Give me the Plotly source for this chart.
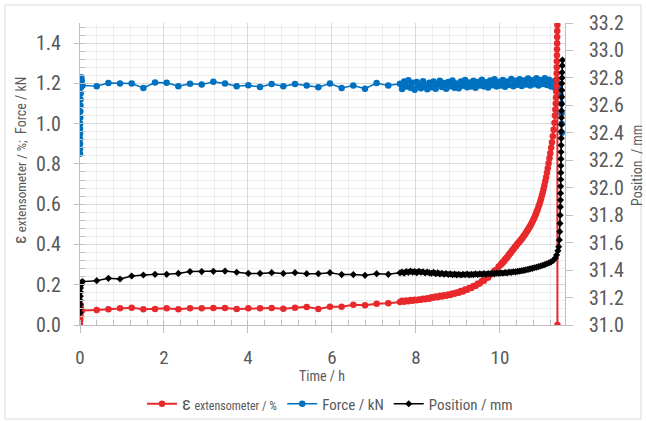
import plotly.graph_objects as go

# ---------------- data ----------------
# start-up cluster near t = 0
red_init_t = [0.0, 0.0, 0.0, 0.005, 0.005, 0.01, 0.01, 0.015, 0.02, 0.03, 0.05]
red_init_v = [0.0, 0.02, 0.04, 0.06, 0.03, 0.09, 0.05, 0.10, 0.08, 0.075, 0.072]

blue_init_t = [0.0, 0.0, 0.0, 0.0, 0.0, 0.0, 0.003, 0.005, 0.007, 0.01, 0.012, 0.015, 0.02, 0.025, 0.03, 0.04, 0.06]
blue_init_v = [0.85, 0.875, 0.90, 0.925, 0.95, 0.975, 1.00, 1.03, 1.06, 1.09, 1.12, 1.15, 1.18, 1.21, 1.23, 1.215, 1.19]

black_init_t = [0.0, 0.0, 0.0, 0.005, 0.005, 0.01, 0.01, 0.015, 0.02, 0.03, 0.06]
black_init_v = [31.09, 31.12, 31.15, 31.18, 31.21, 31.24, 31.27, 31.29, 31.30, 31.31, 31.316]

# sparse logging (every ~1000 s)
sparse_t = [0.398, 0.676, 0.953, 1.231, 1.509, 1.787, 2.064, 2.342, 2.620, 2.898,
            3.176, 3.453, 3.731, 4.009, 4.287, 4.564, 4.842, 5.120, 5.398, 5.676,
            5.953, 6.231, 6.509, 6.787, 7.064, 7.342]
red_sparse = [0.075, 0.078, 0.083, 0.086, 0.078, 0.080, 0.083, 0.078, 0.083, 0.083,
              0.085, 0.085, 0.080, 0.083, 0.083, 0.085, 0.081, 0.086, 0.090, 0.080,
              0.091, 0.091, 0.101, 0.098, 0.105, 0.108]
blue_sparse = [1.186, 1.202, 1.199, 1.199, 1.177, 1.204, 1.203, 1.186, 1.198, 1.194,
               1.208, 1.199, 1.186, 1.191, 1.182, 1.197, 1.186, 1.197, 1.189, 1.181,
               1.199, 1.177, 1.189, 1.174, 1.202, 1.189]
black_sparse = [31.323, 31.340, 31.335, 31.357, 31.364, 31.369, 31.369, 31.376, 31.389, 31.389,
                31.391, 31.393, 31.384, 31.376, 31.376, 31.381, 31.376, 31.381, 31.374, 31.374,
                31.381, 31.367, 31.367, 31.362, 31.374, 31.369]

# dense logging towards failure
dense_t = [7.62, 7.67, 7.72, 7.77, 7.82, 7.87, 7.92, 7.97, 8.02, 8.07,
           8.12, 8.17, 8.22, 8.27, 8.32, 8.37, 8.42, 8.47, 8.52, 8.57,
           8.62, 8.67, 8.72, 8.77, 8.82, 8.87, 8.92, 8.97, 9.02, 9.07,
           9.12, 9.17, 9.22, 9.27, 9.32, 9.37, 9.42, 9.47, 9.52, 9.57,
           9.62, 9.67, 9.72, 9.77, 9.82, 9.87, 9.92, 9.97, 10.02, 10.07,
           10.12, 10.17, 10.22, 10.27, 10.32, 10.37, 10.42, 10.47, 10.52, 10.57,
           10.62, 10.67, 10.72, 10.77, 10.82, 10.87, 10.92, 10.97, 11.02, 11.07,
           11.12, 11.17, 11.22, 11.27, 11.32]
blue_dense = [1.198, 1.172, 1.210, 1.184, 1.216, 1.178, 1.203, 1.169, 1.207, 1.188,
              1.176, 1.211, 1.186, 1.171, 1.203, 1.181, 1.210, 1.174, 1.196, 1.213,
              1.182, 1.202, 1.173, 1.207, 1.186, 1.215, 1.179, 1.200, 1.176, 1.209,
              1.188, 1.217, 1.181, 1.204, 1.184, 1.213, 1.178, 1.207, 1.189, 1.218,
              1.184, 1.206, 1.180, 1.214, 1.191, 1.220, 1.185, 1.208, 1.189, 1.217,
              1.183, 1.210, 1.192, 1.222, 1.186, 1.213, 1.193, 1.221, 1.187, 1.215,
              1.195, 1.224, 1.189, 1.216, 1.196, 1.226, 1.190, 1.217, 1.197, 1.225,
              1.192, 1.218, 1.184, 1.210, 1.176]
black_dense = [31.380, 31.386, 31.378, 31.390, 31.383, 31.392, 31.385, 31.389, 31.381, 31.391,
               31.384, 31.388, 31.379, 31.386, 31.380, 31.377, 31.383, 31.374, 31.380, 31.372,
               31.377, 31.370, 31.375, 31.368, 31.373, 31.366, 31.371, 31.365, 31.370, 31.364,
               31.369, 31.366, 31.371, 31.365, 31.369, 31.367, 31.372, 31.368, 31.373, 31.369,
               31.374, 31.370, 31.375, 31.372, 31.377, 31.373, 31.378, 31.375, 31.380, 31.377,
               31.382, 31.380, 31.385, 31.383, 31.388, 31.387, 31.391, 31.392, 31.396, 31.398,
               31.402, 31.405, 31.409, 31.412, 31.417, 31.421, 31.425, 31.430, 31.435, 31.440,
               31.446, 31.452, 31.460, 31.470, 31.488]

# strain is logged more densely where it rises fast
red_dense_t = [7.62, 7.67, 7.72, 7.77, 7.82, 7.87, 7.92, 7.97, 8.02, 8.07,
               8.12, 8.17, 8.22, 8.27, 8.32, 8.37, 8.42, 8.47, 8.52, 8.57,
               8.62, 8.67, 8.72, 8.77, 8.82, 8.87, 8.92, 8.97, 9.02, 9.07,
               9.12, 9.17, 9.22, 9.27, 9.32, 9.37, 9.42, 9.47, 9.52, 9.57,
               9.62, 9.67, 9.72, 9.77, 9.82, 9.87, 9.92, 9.97,
               10.02, 10.04, 10.06, 10.08, 10.10, 10.12, 10.14, 10.16, 10.18, 10.20,
               10.22, 10.24, 10.26, 10.28, 10.30, 10.32, 10.34, 10.36, 10.38, 10.40,
               10.42, 10.44, 10.46, 10.48, 10.50, 10.52, 10.54, 10.56, 10.58, 10.60,
               10.62, 10.64, 10.66, 10.68, 10.70, 10.72, 10.74, 10.76, 10.78, 10.80,
               10.82, 10.84, 10.86, 10.88, 10.90, 10.92, 10.94, 10.96, 10.98, 11.00,
               11.02, 11.04, 11.06, 11.08, 11.10, 11.12, 11.14, 11.16, 11.18, 11.20,
               11.22, 11.24, 11.26, 11.28, 11.30]
red_dense = [0.114, 0.120, 0.116, 0.122, 0.118, 0.124, 0.120, 0.126, 0.123, 0.127,
             0.125, 0.131, 0.128, 0.133, 0.131, 0.138, 0.135, 0.141, 0.138, 0.145,
             0.141, 0.148, 0.145, 0.152, 0.149, 0.157, 0.155, 0.162, 0.160, 0.169,
             0.167, 0.176, 0.175, 0.184, 0.184, 0.194, 0.194, 0.205, 0.206, 0.218,
             0.220, 0.233, 0.236, 0.250, 0.254, 0.269, 0.274, 0.290,
             0.299, 0.306, 0.308, 0.316, 0.317, 0.325, 0.328, 0.335, 0.337, 0.345,
             0.349, 0.356, 0.359, 0.367, 0.370, 0.378, 0.381, 0.389, 0.391, 0.399,
             0.403, 0.409, 0.412, 0.419, 0.422, 0.429, 0.433, 0.441, 0.445, 0.452,
             0.458, 0.465, 0.470, 0.478, 0.484, 0.492, 0.499, 0.508, 0.515, 0.525,
             0.533, 0.544, 0.553, 0.565, 0.575, 0.588, 0.600, 0.614, 0.627, 0.643,
             0.658, 0.676, 0.694, 0.714, 0.734, 0.756, 0.779, 0.803, 0.828, 0.853,
             0.880, 0.908, 0.938, 0.970, 1.005]

# failure
red_tail_t = [11.31, 11.32, 11.33, 11.335, 11.34, 11.345, 11.35, 11.352, 11.354, 11.356,
              11.358, 11.36, 11.362, 11.364, 11.366, 11.368, 11.37]
red_tail_v = [1.04, 1.07, 1.10, 1.13, 1.16, 1.19, 1.22, 1.25, 1.28, 1.31,
              1.34, 1.37, 1.40, 1.43, 1.46, 1.49, 0.0]
blue_tail_t = [11.34, 11.37, 11.40, 11.43, 11.45, 11.46, 11.465, 11.47, 11.475]
blue_tail_v = [1.20, 1.19, 1.20, 1.17, 1.14, 1.10, 1.05, 1.00, 0.955]
black_tail_t = [11.35, 11.38, 11.40, 11.415, 11.425, 11.43, 11.435, 11.44, 11.442, 11.444,
                11.446, 11.448, 11.45, 11.452, 11.454, 11.456, 11.458, 11.46, 11.462, 11.464,
                11.466, 11.468, 11.47, 11.472, 11.474, 11.476, 11.478, 11.48, 11.485, 11.49]
black_tail_v = [31.51, 31.54, 31.57, 31.62, 31.68, 31.74, 31.80, 31.86, 31.91, 31.96,
                32.01, 32.06, 32.11, 32.16, 32.21, 32.26, 32.31, 32.36, 32.41, 32.46,
                32.51, 32.56, 32.61, 32.66, 32.71, 32.76, 32.80, 32.84, 32.89, 32.93]

for a, b in [(red_init_t, red_init_v), (blue_init_t, blue_init_v), (black_init_t, black_init_v),
             (sparse_t, red_sparse), (sparse_t, blue_sparse), (sparse_t, black_sparse),
             (red_dense_t, red_dense), (dense_t, blue_dense), (dense_t, black_dense),
             (red_tail_t, red_tail_v), (blue_tail_t, blue_tail_v), (black_tail_t, black_tail_v)]:
    assert len(a) == len(b), (len(a), len(b))

RED = "#E8292C"
BLUE = "#0070C0"
BLACK = "#000000"
GREY = "#595959"
FONT = "Liberation Sans Narrow, Arial Narrow, Roboto Condensed, Roboto, sans-serif"

fig = go.Figure()

fig.add_trace(go.Scatter(
    x=blue_init_t + sparse_t + dense_t + blue_tail_t,
    y=blue_init_v + blue_sparse + blue_dense + blue_tail_v,
    mode="lines+markers", name="Force / kN", legendrank=2,
    line=dict(color=BLUE, width=1.5), marker=dict(color=BLUE, size=6.5),
    yaxis="y"))
fig.add_trace(go.Scatter(
    x=red_init_t + sparse_t + red_dense_t + red_tail_t,
    y=red_init_v + red_sparse + red_dense + red_tail_v,
    mode="lines+markers",
    name="<span style='font-size:19px'>ε</span> <span style='font-size:12px'>extensometer / %</span>",
    legendrank=1,
    line=dict(color=RED, width=2), marker=dict(color=RED, size=6.5),
    yaxis="y"))
fig.add_trace(go.Scatter(
    x=black_init_t + sparse_t + dense_t + black_tail_t,
    y=black_init_v + black_sparse + black_dense + black_tail_v,
    mode="lines+markers", name="Position / mm", legendrank=3,
    line=dict(color=BLACK, width=1.5), marker=dict(color=BLACK, size=5.5, symbol="diamond"),
    yaxis="y2"))

W, H = 646, 421
L, R, T, B = 80, 565, 23, 325
def px(xp):
    return (xp - L) / (R - L)
def py(yp):
    return (B - yp) / (B - T)

fig.update_layout(
    width=W, height=H, autosize=False,
    margin=dict(l=L, r=W - R, t=T, b=H - B),
    paper_bgcolor="white", plot_bgcolor="white",
    font=dict(family=FONT, color=GREY, size=14),
    showlegend=True,
    legend=dict(orientation="h", xref="container", yref="container",
                x=330 / W, xanchor="center", y=1 - 404 / H, yanchor="middle",
                font=dict(size=15, color=GREY), itemwidth=30, tracegroupgap=0,
                bgcolor="rgba(0,0,0,0)"),
    xaxis=dict(range=[0, 11.55], dtick=2, tick0=0, showgrid=True, gridcolor="#d9d9d9", gridwidth=1,
               showline=True, linecolor="#bfbfbf", linewidth=1, zeroline=False, automargin=False,
               ticks="outside", ticklen=7, tickcolor="#bfbfbf",
               tickfont=dict(size=19, color=GREY), ticklabelstandoff=8,
               minor=dict(dtick=0.4, showgrid=True, gridcolor="#eeeeee", ticks="inside",
                          ticklen=5, tickcolor="#bfbfbf")),
    yaxis=dict(range=[0, 1.5], dtick=0.2, tick0=0, tickformat=".1f",
               showgrid=True, gridcolor="#d9d9d9", gridwidth=1, automargin=False,
               showline=True, linecolor="#bfbfbf", linewidth=1, zeroline=False,
               ticks="outside", ticklen=5, tickcolor="#bfbfbf",
               tickfont=dict(size=20, color=GREY), ticklabelstandoff=9,
               minor=dict(dtick=0.04, showgrid=True, gridcolor="#eeeeee", ticks="inside",
                          ticklen=5, tickcolor="#bfbfbf")),
    yaxis2=dict(range=[31.0, 33.2], dtick=0.2, tick0=31.0, tickformat=".1f",
                overlaying="y", side="right", showgrid=False, zeroline=False, automargin=False,
                showline=True, linecolor="#bfbfbf", linewidth=1,
                ticks="outside", ticklen=7, tickcolor="#bfbfbf",
                tickfont=dict(size=20, color=GREY), ticklabelstandoff=12),
    shapes=[dict(type="rect", xref="paper", yref="paper",
                 x0=px(5), x1=px(641), y0=py(419), y1=py(5),
                 line=dict(color="#d9d9d9", width=1), layer="below")],
    annotations=[
        dict(text="<span style='font-size:18px'>ε</span> <span style='font-size:13px'>extensometer / %;</span>  Force / kN",
             textangle=-90, xref="paper", yref="paper", x=px(19), y=py(161),
             showarrow=False, font=dict(size=14, color=GREY), xanchor="center", yanchor="middle"),
        dict(text="Position  / mm", textangle=-90, xref="paper", yref="paper",
             x=px(637), y=py(166), showarrow=False, font=dict(size=14, color=GREY),
             xanchor="center", yanchor="middle"),
        dict(text="Time / h", xref="paper", yref="paper", x=px(322), y=py(376),
             showarrow=False, font=dict(size=14, color=GREY),
             xanchor="center", yanchor="middle"),
    ],
)

fig.write_html("out.html")
